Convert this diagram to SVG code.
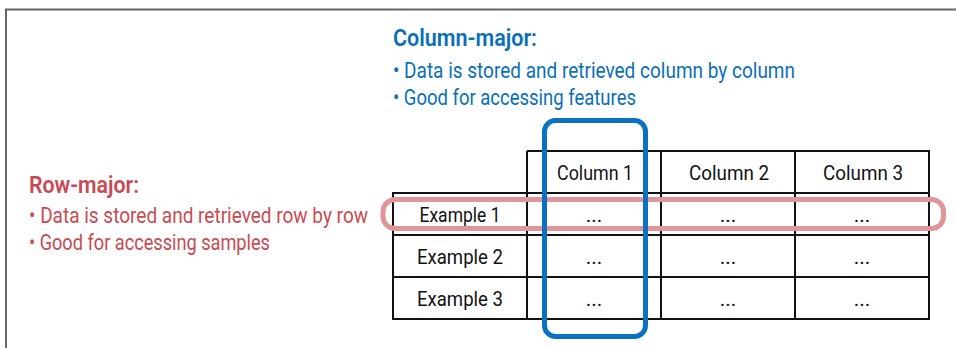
<svg xmlns="http://www.w3.org/2000/svg" width="956" height="348" viewBox="0 0 956 348">
<style>
.frame{stroke:#666;stroke-width:2;fill:none}
.grid{stroke:#111;stroke-width:2;fill:none}
.cell{font-family:Roboto,"Liberation Sans",sans-serif;font-size:21px;fill:#111;text-anchor:middle}
.blue{fill:#0a6fb8;font-family:Roboto,"Liberation Sans",sans-serif}
.red{fill:#c94a52;font-family:Roboto,"Liberation Sans",sans-serif}
.h{font-size:23px;font-weight:600}
.b{font-size:21.5px}
</style>
<rect width="956" height="348" fill="#fff"/>
<g id="frame"><path class="frame" d="M6 348 V9.5 H956"/></g>
<g id="column-major-label">
<text class="blue h" x="393" y="46" textLength="144" lengthAdjust="spacingAndGlyphs">Column-major:</text>
<text class="blue b" x="393" y="78" textLength="402" lengthAdjust="spacingAndGlyphs">• Data is stored and retrieved column by column</text>
<text class="blue b" x="393" y="105" textLength="243" lengthAdjust="spacingAndGlyphs">• Good for accessing features</text>
</g>
<g id="row-major-label">
<text class="red h" x="29" y="193" textLength="110" lengthAdjust="spacingAndGlyphs">Row-major:</text>
<text class="red b" x="29" y="223" textLength="339" lengthAdjust="spacingAndGlyphs">• Data is stored and retrieved row by row</text>
<text class="red b" x="29" y="250" textLength="241" lengthAdjust="spacingAndGlyphs">• Good for accessing samples</text>
</g>
<g id="table">
<path class="grid" d="M527 151 H929 V319 H393 V193 H929 M527 151 V319 M661 151 V319 M795 151 V319 M393 235 H929 M393 277 H929"/>
<text class="cell" x="595" y="180" textLength="76" lengthAdjust="spacingAndGlyphs">Column 1</text>
<text class="cell" x="729" y="180" textLength="80" lengthAdjust="spacingAndGlyphs">Column 2</text>
<text class="cell" x="863" y="180" textLength="80" lengthAdjust="spacingAndGlyphs">Column 3</text>
<text class="cell" x="460" y="222" textLength="81" lengthAdjust="spacingAndGlyphs">Example 1</text>
<text class="cell" x="460" y="264" textLength="86" lengthAdjust="spacingAndGlyphs">Example 2</text>
<text class="cell" x="460" y="306" textLength="86" lengthAdjust="spacingAndGlyphs">Example 3</text>
<text class="cell" x="594" y="222">...</text>
<text class="cell" x="728" y="222">...</text>
<text class="cell" x="862" y="222">...</text>
<text class="cell" x="594" y="264">...</text>
<text class="cell" x="728" y="264">...</text>
<text class="cell" x="862" y="264">...</text>
<text class="cell" x="594" y="306">...</text>
<text class="cell" x="728" y="306">...</text>
<text class="cell" x="862" y="306">...</text>
</g>
<g id="row-highlight"><rect x="383" y="199.5" width="560.5" height="29" rx="12" fill="none" stroke="#e0959a" stroke-width="5"/></g>
<g id="column-highlight"><rect x="544.5" y="120.5" width="101" height="216" rx="11" fill="none" stroke="#0a72c0" stroke-width="5"/></g>
</svg>
